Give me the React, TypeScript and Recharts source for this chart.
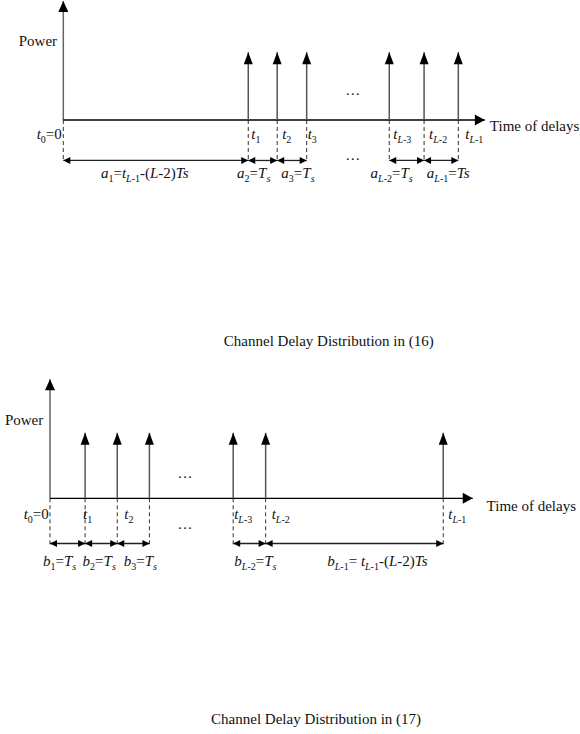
import React from "react";
import { ComposedChart, Line, Scatter, XAxis, YAxis } from "recharts";

// delays in units of roughly one sample period, power relative to the y-axis height
const TAP_DELAYS_16 = [6.27, 7.25, 8.25, 11.05, 12.23, 13.39];
const TAP_POWER_16 = [0.57, 0.57, 0.57, 0.57, 0.57, 0.57];
const TICK_TAPS_16 = [0, 1, 2, 3, 4, 5];
const TICK_LABELS_16 = ["t_{1}", "t_{2}", "t_{3}", "t_{L-3}", "t_{L-2}", "t_{L-1}"];
const GAP_LABELS_16 = [
  "a_{1}=t_{L-1}-(L-2)Ts",
  "a_{2}=T_{s}",
  "a_{3}=T_{s}",
  "a_{L-2}=T_{s}",
  "a_{L-1}=Ts",
];
const TITLE_16 = "Channel Delay Distribution in (16)";

const TAP_DELAYS_17 = [1.19, 2.28, 3.37, 6.21, 7.31, 13.33];
const TAP_POWER_17 = [0.55, 0.55, 0.55, 0.55, 0.55, 0.55];
const TICK_TAPS_17 = [0, 1, 3, 4, 5];
const TICK_LABELS_17 = ["t_{1}", "t_{2}", "t_{L-3}", "t_{L-2}", "t_{L-1}"];
const GAP_LABELS_17 = [
  "b_{1}=T_{s}",
  "b_{2}=T_{s}",
  "b_{3}=T_{s}",
  "b_{L-2}=T_{s}",
  "b_{L-1}= t_{L-1}-(L-2)Ts",
];
const TITLE_17 = "Channel Delay Distribution in (17)";

const ORIGIN_LABEL = "t_{0}=0";
const Y_LABEL = "Power";
const X_LABEL = "Time of delays";
const ELLIPSIS = "\u2026";

// the "..." break sits between the 3rd and 4th tap in both figures
const BREAK_AFTER = 2;

const X_DOMAIN = [-1.5, 17.5];
const Y_DOMAIN = [-1.95, 1];
const FONT = "'Liberation Serif', 'Times New Roman', serif";

type Dir = "up" | "left" | "right" | null;

type Layout = {
  margin: { top: number; right: number; bottom: number; left: number };
  axisEnd: number;
  powerX: number;
  powerY: number;
  originX: number;
  timeX: number;
  timeY: number;
  tickY: number;
  dashEnd: number;
  gapY: number;
  gapLabelY: number;
  dotsX: number;
  dotsHigh: number;
  dotsLow: number;
  titleX: number;
  titleY: number;
  tickNudge: number[];
  gapNudge: number[];
};

const LAYOUT_16: Layout = {
  margin: { top: 1, right: 0.45, bottom: 14.95, left: 19.05 },
  axisEnd: 14.29,
  powerX: -0.21,
  powerY: 0.62,
  originX: -0.05,
  timeX: 14.46,
  timeY: -0.09,
  tickY: -0.16,
  dashEnd: -0.35,
  gapY: -0.34,
  gapLabelY: -0.49,
  dotsX: 9.81,
  dotsHigh: 0.21,
  dotsLow: -0.34,
  titleX: 9.0,
  titleY: -1.9,
  tickNudge: [3, 5, 1, 4, 5, 7],
  gapNudge: [-11, -9, 6, -15, 7],
};

const LAYOUT_17: Layout = {
  margin: { top: 12.3, right: 13.75, bottom: 3.65, left: 5.75 },
  axisEnd: 14.33,
  powerX: -0.23,
  powerY: 0.62,
  originX: -0.04,
  timeX: 14.8,
  timeY: -0.11,
  tickY: -0.17,
  dashEnd: -0.4,
  gapY: -0.38,
  gapLabelY: -0.57,
  dotsX: 4.58,
  dotsHigh: 0.17,
  dotsLow: -0.26,
  titleX: 9.02,
  titleY: -1.9,
  tickNudge: [-2, 7, 1, 6, 5],
  gapNudge: [-8, -2, 7, 6, 23],
};

// "_{..}" marks a subscript; in math mode letters are set in italic
type Run = { text: string; sub: boolean; italic: boolean };
const parseLabel = (s: string, math: boolean): Run[] => {
  const runs: Run[] = [];
  const push = (text: string, sub: boolean) => {
    if (!math) {
      runs.push({ text, sub, italic: false });
      return;
    }
    text.split(/([A-Za-z]+)/).forEach((part) => {
      if (part) runs.push({ text: part, sub, italic: /[A-Za-z]/.test(part) });
    });
  };
  const re = /_\{([^}]*)\}/g;
  let last = 0;
  let m: RegExpExecArray | null;
  while ((m = re.exec(s))) {
    if (m.index > last) push(s.slice(last, m.index), false);
    push(m[1], true);
    last = re.lastIndex;
  }
  if (last < s.length) push(s.slice(last), false);
  return runs;
};

const MathText = ({
  x,
  y,
  text,
  anchor,
  math,
}: {
  x: number;
  y: number;
  text: string;
  anchor: "start" | "middle" | "end";
  math: boolean;
}) => {
  const runs = parseLabel(text, math);
  return (
    <text
      x={x}
      y={y}
      textAnchor={anchor}
      fontFamily={FONT}
      fontSize={15}
      fill="#111"
      style={{ whiteSpace: "pre" }}
    >
      {runs.map((r, i) => {
        const prevSub = i > 0 && runs[i - 1].sub;
        const dy = r.sub && !prevSub ? 4 : !r.sub && prevSub ? -4 : undefined;
        return (
          <tspan
            key={i}
            dy={dy}
            fontSize={r.sub ? 10 : undefined}
            fontStyle={r.italic ? "italic" : undefined}
          >
            {r.text}
          </tspan>
        );
      })}
    </text>
  );
};

const headPath = (cx: number, cy: number, dir: Dir, len: number, half: number) => {
  if (dir === "up") return `M${cx},${cy} L${cx - half},${cy + len} L${cx + half},${cy + len} Z`;
  if (dir === "right") return `M${cx},${cy} L${cx - len},${cy - half} L${cx - len},${cy + half} Z`;
  return `M${cx},${cy} L${cx + len},${cy - half} L${cx + len},${cy + half} Z`;
};

type Pt = { x: number; y: number };

// one straight segment drawn through the chart scales, with optional arrow heads
const segment = (
  key: string,
  pts: Pt[],
  stroke: string,
  width: number,
  dash?: string,
  heads?: Dir[],
  size: [number, number] = [7, 3.5]
) => (
  <Line
    key={key}
    data={pts}
    dataKey="y"
    type="linear"
    stroke={stroke}
    strokeWidth={width}
    strokeDasharray={dash}
    dot={
      heads
        ? (p: any) =>
            heads[p.index] ? (
              <path
                key={`${key}h${p.index}`}
                d={headPath(p.cx, p.cy, heads[p.index], size[0], size[1])}
                fill="#000"
              />
            ) : (
              <g key={`${key}h${p.index}`} />
            )
        : false
    }
    activeDot={false}
    legendType="none"
    isAnimationActive={false}
  />
);

const tag = (
  key: string,
  x: number,
  y: number,
  text: string,
  anchor: "start" | "middle" | "end",
  math: boolean,
  dx = 0
) => (
  <Scatter
    key={key}
    data={[{ x, y }]}
    dataKey="y"
    legendType="none"
    isAnimationActive={false}
    shape={(p: any) => (
      <MathText x={p.cx + dx} y={p.cy} text={text} anchor={anchor} math={math} />
    )}
  />
);

type FigureProps = {
  delays: number[];
  power: number[];
  tickTaps: number[];
  tickLabels: string[];
  gapLabels: string[];
  title: string;
  lay: Layout;
};

const Figure = ({ delays, power, tickTaps, tickLabels, gapLabels, title, lay }: FigureProps) => {
  const edges = [0, ...delays];
  const gaps = edges
    .slice(0, -1)
    .map((a, i) => [a, edges[i + 1]])
    .filter((_, i) => i !== BREAK_AFTER + 1);

  return (
    <ComposedChart width={580} height={367} margin={lay.margin}>
      <XAxis type="number" dataKey="x" domain={X_DOMAIN} hide />
      <YAxis type="number" dataKey="y" domain={Y_DOMAIN} hide />

      {edges.map((t, i) =>
        segment(`drop${i}`, [{ x: t, y: 0 }, { x: t, y: lay.dashEnd }], "#333", 1, "4 3")
      )}

      {segment("yaxis", [{ x: 0, y: 0 }, { x: 0, y: 1 }], "#666", 1.5, undefined, [null, "up"], [11, 5])}
      {segment("xaxis", [{ x: 0, y: 0 }, { x: lay.axisEnd, y: 0 }], "#000", 1.3, undefined, [null, "right"], [10, 5.5])}

      {delays.map((t, i) =>
        segment(`tap${i}`, [{ x: t, y: 0 }, { x: t, y: power[i] }], "#555", 1.5, undefined, [null, "up"], [12, 4.5])
      )}

      {gaps.map(([a, b], i) =>
        segment(`gap${i}`, [{ x: a, y: lay.gapY }, { x: b, y: lay.gapY }], "#222", 1.3, undefined, ["left", "right"], [7, 3.5])
      )}

      {tag("ylabel", lay.powerX, lay.powerY, Y_LABEL, "end", false)}
      {tag("xlabel", lay.timeX, lay.timeY, X_LABEL, "start", false)}
      {tag("origin", lay.originX, lay.tickY, ORIGIN_LABEL, "end", true)}
      {tickTaps.map((tap, i) =>
        tag(`tick${i}`, delays[tap], lay.tickY, tickLabels[i], "start", true, lay.tickNudge[i])
      )}
      {gaps.map(([a, b], i) =>
        tag(`gl${i}`, (a + b) / 2, lay.gapLabelY, gapLabels[i], "middle", true, lay.gapNudge[i])
      )}
      {tag("dots1", lay.dotsX, lay.dotsHigh, ELLIPSIS, "middle", false)}
      {tag("dots2", lay.dotsX, lay.dotsLow, ELLIPSIS, "middle", false)}
      {tag("title", lay.titleX, lay.titleY, title, "middle", false)}
    </ComposedChart>
  );
};

export default function App() {
  return (
    <div style={{ position: "absolute", left: 0, top: 0, width: 580, height: 734, background: "#fff" }}>
      <Figure
        delays={TAP_DELAYS_16}
        power={TAP_POWER_16}
        tickTaps={TICK_TAPS_16}
        tickLabels={TICK_LABELS_16}
        gapLabels={GAP_LABELS_16}
        title={TITLE_16}
        lay={LAYOUT_16}
      />
      <Figure
        delays={TAP_DELAYS_17}
        power={TAP_POWER_17}
        tickTaps={TICK_TAPS_17}
        tickLabels={TICK_LABELS_17}
        gapLabels={GAP_LABELS_17}
        title={TITLE_17}
        lay={LAYOUT_17}
      />
    </div>
  );
}
